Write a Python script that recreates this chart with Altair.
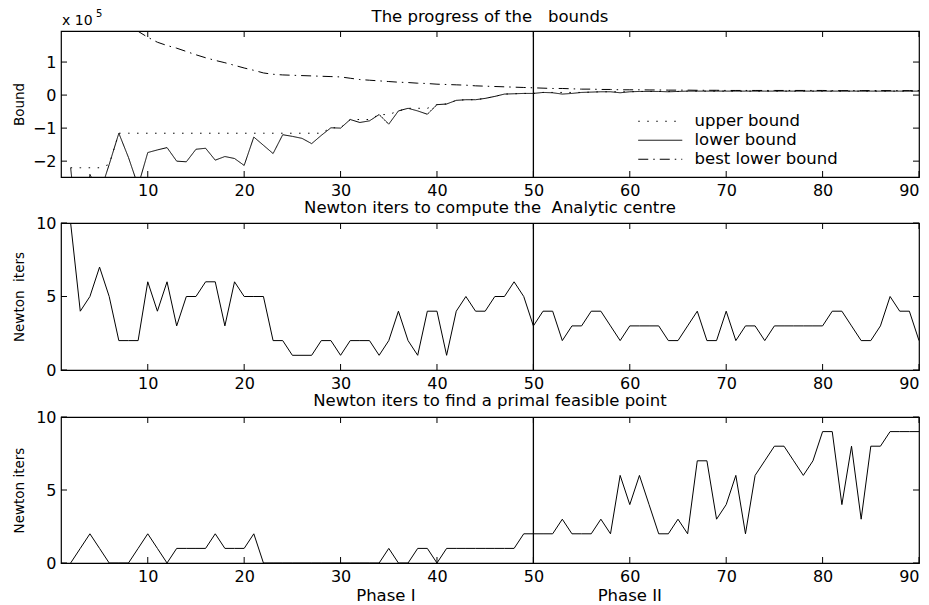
import altair as alt
import pandas as pd

# ---------------- data ----------------
iterations = list(range(2, 91))

# top panel, in units of 1e5
dotted_series = [  # drawn dotted ("upper bound" in the legend)
    -2.2, -2.2, -2.2, -2.2, -2.1, -1.155, -1.155, -1.155, -1.155,
    -1.155, -1.155, -1.155, -1.155, -1.155, -1.155, -1.155, -1.155, -1.155, -1.155,
    -1.155, -1.155, -1.155, -1.155, -1.155, -1.155, -1.155, -1.155, -0.99, -0.99,
    -0.74, -0.74, -0.74, -0.59, -0.59, -0.48, -0.40, -0.40, -0.40, -0.29,
    -0.27, -0.16, -0.14, -0.14, -0.10, -0.04, 0.03, 0.04, 0.05, 0.05,
    0.08, 0.08, 0.08, 0.08, 0.08, 0.09, 0.10, 0.10, 0.10, 0.10,
    0.11, 0.11, 0.11, 0.11, 0.11, 0.12, 0.12, 0.12, 0.12, 0.12,
    0.12, 0.12, 0.12, 0.12, 0.12, 0.12, 0.12, 0.12, 0.12, 0.12,
    0.12, 0.12, 0.12, 0.12, 0.12, 0.12, 0.12, 0.12, 0.12, 0.12,
]
solid_series = [  # "lower bound"
    -2.2, -5.0, -2.4, -3.0, -2.1, -1.155, -1.89, -2.75, -1.74,
    -1.66, -1.59, -2.0, -2.02, -1.64, -1.61, -1.97, -1.86, -1.92, -2.13,
    -1.27, -1.52, -1.77, -1.2, -1.25, -1.31, -1.47, -1.22, -0.99, -1.0,
    -0.74, -0.83, -0.78, -0.59, -0.88, -0.48, -0.40, -0.48, -0.58, -0.29,
    -0.27, -0.16, -0.14, -0.14, -0.10, -0.04, 0.03, 0.04, 0.05, 0.05,
    0.08, 0.07, 0.03, 0.05, 0.08, 0.09, 0.10, 0.10, 0.07, 0.10,
    0.11, 0.11, 0.11, 0.10, 0.11, 0.12, 0.12, 0.12, 0.12, 0.12,
    0.12, 0.12, 0.12, 0.12, 0.12, 0.12, 0.12, 0.12, 0.12, 0.12,
    0.12, 0.12, 0.12, 0.12, 0.12, 0.12, 0.12, 0.12, 0.12, 0.12,
]
dashdot_series = [  # "best lower bound" in the legend
    3.6, 3.3, 3.0, 2.75, 2.5, 2.3, 2.1, 1.93, 1.75,
    1.6, 1.5, 1.42, 1.32, 1.22, 1.13, 1.05, 0.98, 0.9, 0.82,
    0.75, 0.67, 0.63, 0.61, 0.6, 0.59, 0.58, 0.57, 0.56, 0.55,
    0.51, 0.47, 0.45, 0.43, 0.41, 0.39, 0.38, 0.36, 0.35, 0.33,
    0.32, 0.31, 0.3, 0.28, 0.27, 0.26, 0.25, 0.24, 0.23, 0.22,
    0.21, 0.2, 0.2, 0.19, 0.18, 0.18, 0.17, 0.17, 0.16, 0.16,
    0.16, 0.155, 0.155, 0.15, 0.15, 0.15, 0.145, 0.145, 0.145, 0.14,
    0.14, 0.14, 0.14, 0.14, 0.14, 0.14, 0.14, 0.14, 0.14, 0.14,
    0.135, 0.135, 0.135, 0.135, 0.135, 0.135, 0.135, 0.135, 0.135, 0.135,
]
series_names = ["upper bound", "lower bound", "best lower bound"]

newton_centre = [
    10, 4, 5, 7, 5, 2, 2, 2, 6,
    4, 6, 3, 5, 5, 6, 6, 3, 6, 5,
    5, 5, 2, 2, 1, 1, 1, 2, 2, 1,
    2, 2, 2, 1, 2, 4, 2, 1, 4, 4,
    1, 4, 5, 4, 4, 5, 5, 6, 5, 3,
    4, 4, 2, 3, 3, 4, 4, 3, 2, 3,
    3, 3, 3, 2, 2, 3, 4, 2, 2, 4,
    2, 3, 3, 2, 3, 3, 3, 3, 3, 3,
    4, 4, 3, 2, 2, 3, 5, 4, 4, 2,
]
newton_feasible = [
    0, 1, 2, 1, 0, 0, 0, 1, 2,
    1, 0, 1, 1, 1, 1, 2, 1, 1, 1,
    2, 0, 0, 0, 0, 0, 0, 0, 0, 0,
    0, 0, 0, 0, 1, 0, 0, 1, 1, 0,
    1, 1, 1, 1, 1, 1, 1, 1, 2, 2,
    2, 2, 3, 2, 2, 2, 3, 2, 6, 4,
    6, 4, 2, 2, 3, 2, 7, 7, 3, 4,
    6, 2, 6, 7, 8, 8, 7, 6, 7, 9,
    9, 4, 8, 3, 8, 8, 9, 9, 9, 9,
]

x_tick_values = [10, 20, 30, 40, 50, 60, 70, 80, 90]
bound_tick_values = [-2, -1, 0, 1]
newton_tick_values = [0, 5, 10]
phase_switch_at = [50]
phase_names = ["Phase I", "Phase II"]
phase_name_at = [34.7, 60.0]
exponent_base = ["x 10"]
exponent_power = ["5"]

titles = [
    "The progress of the \u00a0\u00a0bounds",
    "Newton iters to compute the \u00a0Analytic centre",
    "Newton iters to find a primal feasible point",
]
y_titles = ["Bound", "Newton \u00a0iters", "Newton iters"]

# ---------------- styling ----------------
W, H = 858, 146
FONT = "DejaVu Sans"
TICK = 6

x_scale = alt.Scale(domain=[1, 90], nice=False, zero=False)
bound_scale = alt.Scale(domain=[-2.48, 1.94], nice=False, zero=False)
newton_scale = alt.Scale(domain=[0, 10], nice=False, zero=False)


def x_axis():
    return alt.Axis(values=x_tick_values, ticks=False, domain=False, grid=False,
                    title=None, labelFont=FONT, labelFontSize=16, labelColor="black",
                    labelPadding=5, labelFlush=True, labelOverlap=False)


def y_axis(title, values):
    return alt.Axis(values=values, ticks=False, domain=False, grid=False,
                    title=title, titleFont=FONT, titleFontSize=13.5,
                    titleFontWeight="normal", titleColor="black", titleAngle=270,
                    titleBaseline="alphabetic", titleX=-38,
                    labelFont=FONT, labelFontSize=16, labelColor="black", labelPadding=5,
                    labelFlush=False, labelOverlap=False)


def title_layer(text, dy):
    return alt.Chart(pd.DataFrame({"t": [text]})).mark_text(
        align="center", baseline="alphabetic", font=FONT, fontSize=16.5, color="black"
    ).encode(x=alt.value(W / 2), y=alt.value(-dy), text="t:N")


def frame_layers(yvals, yscale, h):
    xt = pd.DataFrame({"iter": x_tick_values})
    yt = pd.DataFrame({"value": yvals})
    top = alt.Chart(xt).mark_rule(color="black", strokeWidth=1).encode(
        x=alt.X("iter:Q", scale=x_scale), y=alt.value(0), y2=alt.value(TICK))
    bottom = alt.Chart(xt).mark_rule(color="black", strokeWidth=1).encode(
        x=alt.X("iter:Q", scale=x_scale), y=alt.value(h - TICK), y2=alt.value(h))
    left = alt.Chart(yt).mark_rule(color="black", strokeWidth=1).encode(
        y=alt.Y("value:Q", scale=yscale), x=alt.value(0), x2=alt.value(TICK))
    right = alt.Chart(yt).mark_rule(color="black", strokeWidth=1).encode(
        y=alt.Y("value:Q", scale=yscale), x=alt.value(W - TICK), x2=alt.value(W))
    switch = alt.Chart(pd.DataFrame({"iter": phase_switch_at})).mark_rule(
        color="black", strokeWidth=1.3).encode(x=alt.X("iter:Q", scale=x_scale))
    return [top, bottom, left, right, switch]


# ---------------- top panel ----------------
bounds_df = pd.DataFrame({
    "iter": iterations * 3,
    "value": dotted_series + solid_series + dashdot_series,
    "series": [series_names[0]] * len(iterations) + [series_names[1]] * len(iterations)
              + [series_names[2]] * len(iterations),
})

bounds_lines = alt.Chart(bounds_df).mark_line(color="black", strokeWidth=1, clip=True).encode(
    x=alt.X("iter:Q", scale=x_scale, axis=x_axis()),
    y=alt.Y("value:Q", scale=bound_scale, axis=y_axis(y_titles[0], bound_tick_values)),
    strokeDash=alt.StrokeDash(
        "series:N",
        scale=alt.Scale(domain=series_names, range=[[1.5, 7.5], [1, 0], [10, 5, 1.5, 5]]),
        legend=alt.Legend(title=None, orient="none", legendX=591, legendY=82,
                          symbolType="M-4,0H4", symbolSize=121, symbolStrokeWidth=1,
                          symbolStrokeColor="black", labelFont=FONT, labelFontSize=16.5,
                          labelColor="black", labelOffset=26, rowPadding=2),
    ),
    detail="series:N",
)

exp_base = alt.Chart(pd.DataFrame({"s": exponent_base})).mark_text(
    align="left", baseline="alphabetic", font=FONT, fontSize=14, color="black").encode(
    x=alt.value(1), y=alt.value(-6), text="s:N")
exp_pow = alt.Chart(pd.DataFrame({"s": exponent_power})).mark_text(
    align="left", baseline="alphabetic", font=FONT, fontSize=10, color="black").encode(
    x=alt.value(35), y=alt.value(-14), text="s:N")

top_panel = alt.layer(bounds_lines, *frame_layers(bound_tick_values, bound_scale, H),
                      exp_base, exp_pow, title_layer(titles[0], 9)).properties(width=W, height=H)

# ---------------- middle panel ----------------
centre_df = pd.DataFrame({"iter": iterations, "value": newton_centre})
centre_line = alt.Chart(centre_df).mark_line(color="black", strokeWidth=1, clip=True).encode(
    x=alt.X("iter:Q", scale=x_scale, axis=x_axis()),
    y=alt.Y("value:Q", scale=newton_scale, axis=y_axis(y_titles[1], newton_tick_values)),
)
mid_panel = alt.layer(centre_line, *frame_layers(newton_tick_values, newton_scale, H + 1),
                      title_layer(titles[1], 10)).properties(width=W, height=H + 1)

# ---------------- bottom panel ----------------
feas_df = pd.DataFrame({"iter": iterations, "value": newton_feasible})
feas_line = alt.Chart(feas_df).mark_line(color="black", strokeWidth=1, clip=True).encode(
    x=alt.X("iter:Q", scale=x_scale, axis=x_axis()),
    y=alt.Y("value:Q", scale=newton_scale, axis=y_axis(y_titles[2], newton_tick_values)),
)
phase_text = alt.Chart(pd.DataFrame({"iter": phase_name_at, "name": phase_names})).mark_text(
    baseline="middle", font=FONT, fontSize=16.5, color="black").encode(
    x=alt.X("iter:Q", scale=x_scale), y=alt.value(H + 33), text="name:N")
bot_panel = alt.layer(feas_line, *frame_layers(newton_tick_values, newton_scale, H),
                      phase_text, title_layer(titles[2], 11)).properties(width=W, height=H)

chart = alt.vconcat(top_panel, mid_panel, bot_panel, spacing=0).resolve_scale(
    strokeDash="independent").resolve_legend(strokeDash="independent").properties(
    padding={"left": 3, "top": 0, "right": 0, "bottom": 0}
).configure_view(stroke="black", strokeWidth=1.2)

chart.save("out.html", embed_options={"renderer": "svg", "actions": False})
